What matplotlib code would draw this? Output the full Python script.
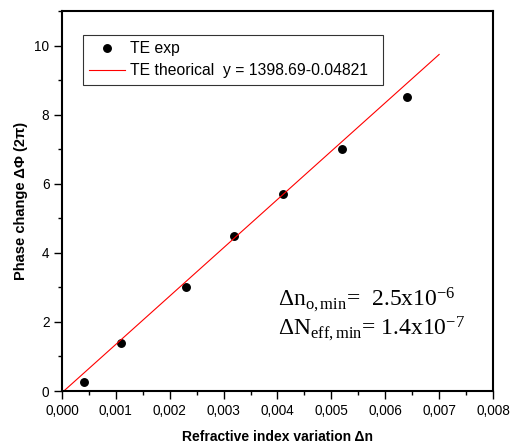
import matplotlib.pyplot as plt
from matplotlib.ticker import MultipleLocator, FuncFormatter
import numpy as np

# experimental points
dn_exp = [0.0004, 0.0011, 0.0023, 0.0032, 0.0041, 0.0052, 0.0064]
phase_exp = [0.25, 1.4, 3.0, 4.5, 5.7, 7.0, 8.5]

# linear fit y = a*x + b
fit_a = 1398.69
fit_b = -0.04821
fit_x = [0.0000345, 0.007]

plt.rcParams['font.family'] = ['Liberation Sans', 'DejaVu Sans']
plt.rcParams['mathtext.fontset'] = 'custom'
plt.rcParams['mathtext.rm'] = 'Liberation Serif'
plt.rcParams['mathtext.it'] = 'Liberation Serif:italic'

fig = plt.figure(figsize=(5.11, 4.48), dpi=100)
ax = fig.add_axes([0.1213, 0.1272, 0.8435, 0.8482])

ax.plot(dn_exp, phase_exp, 'o', color='black', markersize=5.4, label='TE exp')
fx = np.array(fit_x)
ax.plot(fx, fit_a * fx + fit_b, color='red', lw=0.8,
        label='TE theorical  y = 1398.69-0.04821  ')

ax.set_xlim(0, 0.008)
ax.set_ylim(0, 11)
ax.xaxis.set_major_locator(MultipleLocator(0.001))
ax.xaxis.set_minor_locator(MultipleLocator(0.0005))
ax.yaxis.set_major_locator(MultipleLocator(2))
ax.yaxis.set_minor_locator(MultipleLocator(1))
ax.xaxis.set_major_formatter(FuncFormatter(lambda v, p: f'{v:.3f}'.replace('.', ',')))
ax.tick_params(which='major', direction='out', length=5.5, width=1, labelsize=9.8)
ax.tick_params(which='minor', direction='out', length=3, width=1)
ax.tick_params(top=False, right=False)
for s in ax.spines.values():
    s.set_linewidth(1.5)

ax.set_xlabel('Refractive index variation \u0394n', fontsize=10, fontweight='bold',
              labelpad=9)
ax.set_ylabel('Phase change \u0394\u03a6 (2\u03c0)', fontsize=10.5, fontweight='bold',
              labelpad=5)

leg = ax.legend(loc='upper left', bbox_to_anchor=(0.048, 0.937), fontsize=11.3,
                frameon=True, fancybox=False, edgecolor='black', borderpad=0.4,
                handlelength=2.3, handletextpad=0.3, labelspacing=0.45,
                borderaxespad=0)
leg.get_frame().set_linewidth(0.8)

ax.text(0.502, 0.224, r'$\Delta \mathrm{n}_{\mathrm{o,min}}$=  2.5x10$^{-6}$',
        transform=ax.transAxes, fontsize=17, family='Liberation Serif', va='baseline')
ax.text(0.502, 0.147, r'$\Delta \mathrm{N}_{\mathrm{eff,min}}$= 1.4x10$^{-7}$',
        transform=ax.transAxes, fontsize=17, family='Liberation Serif', va='baseline')

fig.savefig('out.png', dpi=100)
